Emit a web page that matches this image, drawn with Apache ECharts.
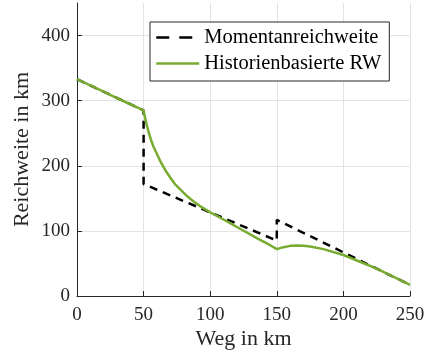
<!DOCTYPE html>
<html>
<head>
<meta charset="utf-8">
<script src="https://cdn.jsdelivr.net/npm/echarts@6/dist/echarts.min.js"></script>
<style>html,body{margin:0;padding:0;background:#fff}#c{width:427px;height:352px}</style>
</head>
<body>
<div id="c"></div>
<script>
// Momentanreichweite (x in km, y in km)
const momentanX = [0, 50, 50, 150, 150, 250];
const momentanY = [333, 285, 172, 85, 117, 17];
// Historienbasierte RW
const histX = [0, 10, 20, 30, 40, 50, 51, 52.3, 54, 55.5, 57.3, 60, 62.3, 65, 67.3, 70, 73.5, 77.3, 82, 87.3, 92, 97.3, 100, 105, 110, 115, 120, 127.5, 135, 140, 145, 150, 155, 160, 165, 170, 175, 185, 200, 212, 225, 237, 250];
const histY = [333, 323.5, 314, 304, 294.5, 285, 275, 263, 250, 240, 230, 218, 208, 198, 190, 182, 172, 164, 154.5, 145.5, 138.5, 132, 128.5, 123, 117.5, 112, 106, 97.5, 89, 83.5, 78, 72, 75, 77, 77.5, 77, 76, 72, 63, 53, 42, 30, 17];
const xTicks = [0, 50, 100, 150, 200, 250];
const yTicks = [0, 100, 200, 300, 400];
const seriesNames = ['Momentanreichweite', 'Historienbasierte RW'];

const pair = (xs, ys) => xs.map((x, i) => [x, ys[i]]);
const font = 'Liberation Serif';
const axisCol = '#262626';
const gridCol = '#e3e3e3';

const chart = echarts.init(document.getElementById('c'), null, {renderer: 'canvas'});
chart.setOption({
  animation: false,
  backgroundColor: '#fff',
  grid: {left: 77, right: 17, top: 3, bottom: 56, containLabel: false, outerBoundsMode: 'none'},
  legend: {
    left: 150, top: 22,
    orient: 'vertical',
    backgroundColor: '#fff',
    borderColor: axisCol, borderWidth: 1, borderRadius: 0,
    padding: [5, 8, 7, 5],
    itemWidth: 43, itemHeight: 14, itemGap: 5,
    itemStyle: {opacity: 0},
    textStyle: {fontFamily: font, fontSize: 20.5, color: '#000', lineHeight: 20},
    data: [
      {name: seriesNames[0], lineStyle: {type: [13, 10], width: 2.5, color: '#000'}},
      {name: seriesNames[1], lineStyle: {width: 2.5, color: '#77AC30'}}
    ]
  },
  xAxis: {
    type: 'value', min: xTicks[0], max: xTicks[xTicks.length - 1], interval: 50,
    name: 'Weg in km', nameLocation: 'middle', nameGap: 32, nameMoveOverlap: false,
    nameTextStyle: {fontFamily: font, fontSize: 22, color: axisCol},
    axisLine: {show: true, lineStyle: {color: axisCol, width: 1}},
    axisTick: {show: true, inside: true, length: 5, lineStyle: {color: axisCol}},
    axisLabel: {fontFamily: font, fontSize: 19, color: axisCol, margin: 10},
    splitLine: {show: true, lineStyle: {color: gridCol, width: 1}}
  },
  yAxis: {
    type: 'value', min: yTicks[0], max: 450, interval: 100,
    name: 'Reichweite in km', nameLocation: 'middle', nameGap: 44, nameRotate: 90, nameMoveOverlap: false,
    nameTextStyle: {fontFamily: font, fontSize: 22, color: axisCol},
    axisLine: {show: true, lineStyle: {color: axisCol, width: 1}},
    axisTick: {show: true, inside: true, length: 5, lineStyle: {color: axisCol}},
    axisLabel: {fontFamily: font, fontSize: 19, color: axisCol, margin: 7, showMaxLabel: false,
      formatter: v => yTicks.includes(v) ? String(v) : ''},
    splitLine: {show: true, lineStyle: {color: [gridCol, gridCol, gridCol, gridCol, gridCol, 'rgba(0,0,0,0)'], width: 1}}
  },
  series: [
    {
      name: seriesNames[0], type: 'line', data: pair(momentanX, momentanY),
      symbol: 'none', showSymbol: false, z: 2,
      lineStyle: {color: '#000', width: 2.5, type: [8, 6]},
      itemStyle: {color: '#000'}
    },
    {
      name: seriesNames[1], type: 'line', data: pair(histX, histY),
      symbol: 'none', showSymbol: false, smooth: false, z: 3,
      lineStyle: {color: '#77AC30', width: 2.5, join: 'round'},
      itemStyle: {color: '#77AC30'}
    }
  ]
});
</script>
</body>
</html>
